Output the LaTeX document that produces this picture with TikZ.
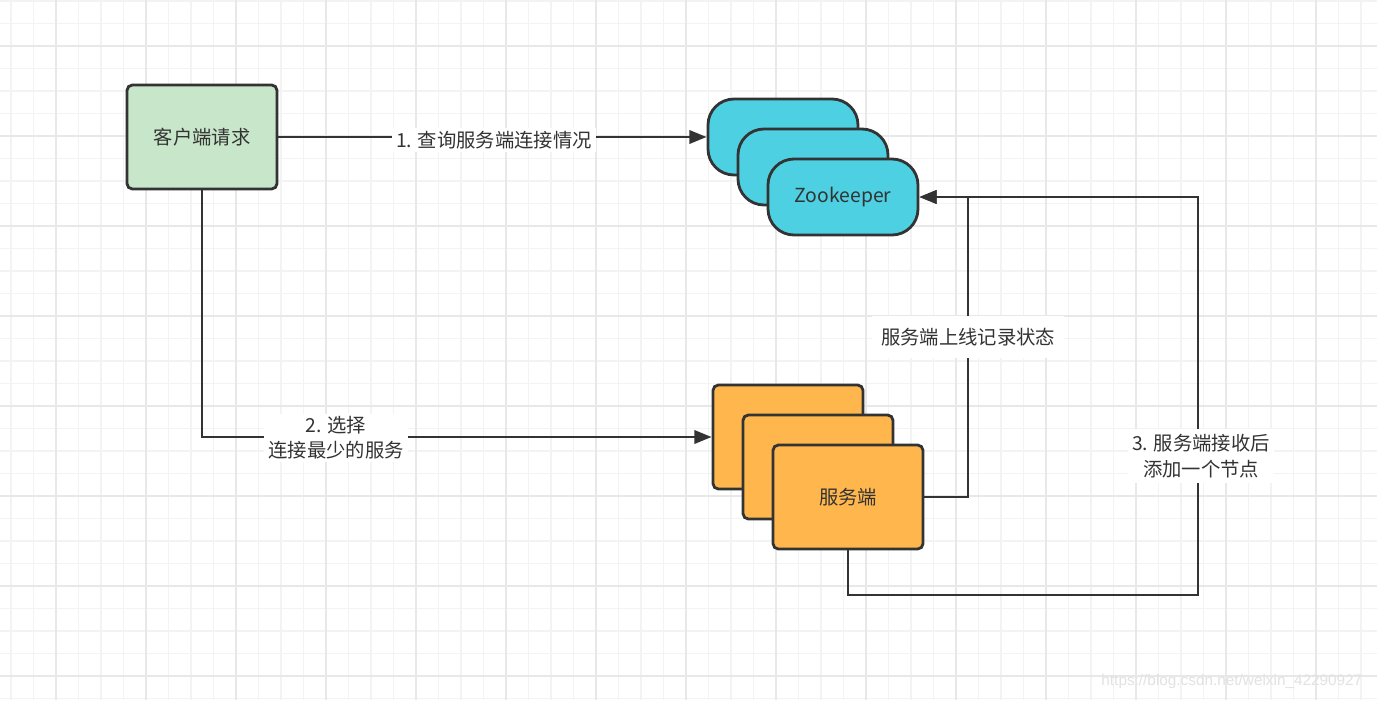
\documentclass[tikz,border=0pt]{standalone}
\usepackage{fontspec}
\setmainfont{Noto Sans CJK SC}
\newfontfamily\wmfont{Liberation Sans}
\usetikzlibrary{arrows.meta}
\definecolor{ink}{HTML}{333333}
\definecolor{gridminor}{HTML}{F3F3F3}
\definecolor{gridmajor}{HTML}{E8E8E8}
\definecolor{clientfill}{HTML}{C8E6C9}
\definecolor{zkfill}{HTML}{4DD0E1}
\definecolor{svfill}{HTML}{FFB74D}
\definecolor{wmcolor}{HTML}{E2E2E2}
\tikzset{
  basefont/.style={font=\fontsize{14.5}{19}\selectfont, text=ink},
  boxshape/.style={draw=ink, line width=2.1pt, rectangle, minimum width=112.5pt, basefont, inner sep=0pt},
  rectbox/.style={boxshape, rounded corners=4pt, minimum height=78pt},
  clientbox/.style={rectbox, fill=clientfill},
  svbox/.style={rectbox, fill=svfill},
  zkbox/.style={boxshape, rounded corners=19.5pt, minimum height=57pt, fill=zkfill},
  conn/.style={draw=ink, line width=2.05pt},
  arr/.style={-{Triangle[length=13pt,width=10pt]}},
  lab/.style={basefont, fill=white, align=center, inner xsep=3pt, inner ysep=2pt},
}
\begin{document}
\begin{tikzpicture}[x=0.75pt,y=-0.75pt]
\useasboundingbox (0,0) rectangle (1377,700);
\fill[white] (0,0) rectangle (1377,700);
% grid
\foreach \i in {0,...,61} {
  \draw[gridminor, line width=0.8pt] ({11+22.5*\i},0) -- ({11+22.5*\i},700);
}
\foreach \j in {0,...,31} {
  \draw[gridminor, line width=0.8pt] (0,{1+22.5*\j}) -- (1377,{1+22.5*\j});
}
\foreach \i in {0,...,15} {
  \draw[gridmajor, line width=0.8pt] ({56+90*\i},0) -- ({56+90*\i},700);
}
\foreach \j in {0,...,7} {
  \draw[gridmajor, line width=0.8pt] (0,{46+90*\j}) -- (1377,{46+90*\j});
}
% nodes
\node[clientbox] (client) at (202,137) {客户端请求};
\node[zkbox] (zk1) at (783,137) {};
\node[zkbox] (zk2) at (813,167) {};
\node[zkbox] (zk3) at (843,197) {\raisebox{-2pt}{Zookeeper}};
\node[svbox] (sv1) at (788,437) {};
\node[svbox] (sv2) at (818,467) {};
\node[svbox] (sv3) at (848,497) {服务端};
% coordinates
\coordinate (k3) at (968,337);
\coordinate (c4) at (1198,595);
% connectors
\draw[conn,arr] (client.east) -- (zk1.west);
\draw[conn,arr] (client.south) |- (sv1.west);
\draw[conn,arr] (sv3.east) -| (k3) |- (zk3.east);
\draw[conn,arr] (sv3.south) |- (c4) |- (zk3.east);
% labels
\node[lab] (lab1) at (494,140) {1. 查询服务端连接情况};
\node[lab] (lab2) at (336,438) {2. 选择\\连接最少的服务};
\node[lab, inner xsep=7pt, inner ysep=9pt] (lab3) at (k3) {服务端上线记录状态};
\node[lab, inner ysep=4pt] (lab4) at (1201,456) {3. 服务端接收后\\添加一个节点};
% watermark
\node[font=\wmfont\fontsize{11.5}{13}\selectfont, text=wmcolor, anchor=east] (wm) at (1367,682) {https://blog.csdn.net/weixin\_42290927};
\end{tikzpicture}
\end{document}
